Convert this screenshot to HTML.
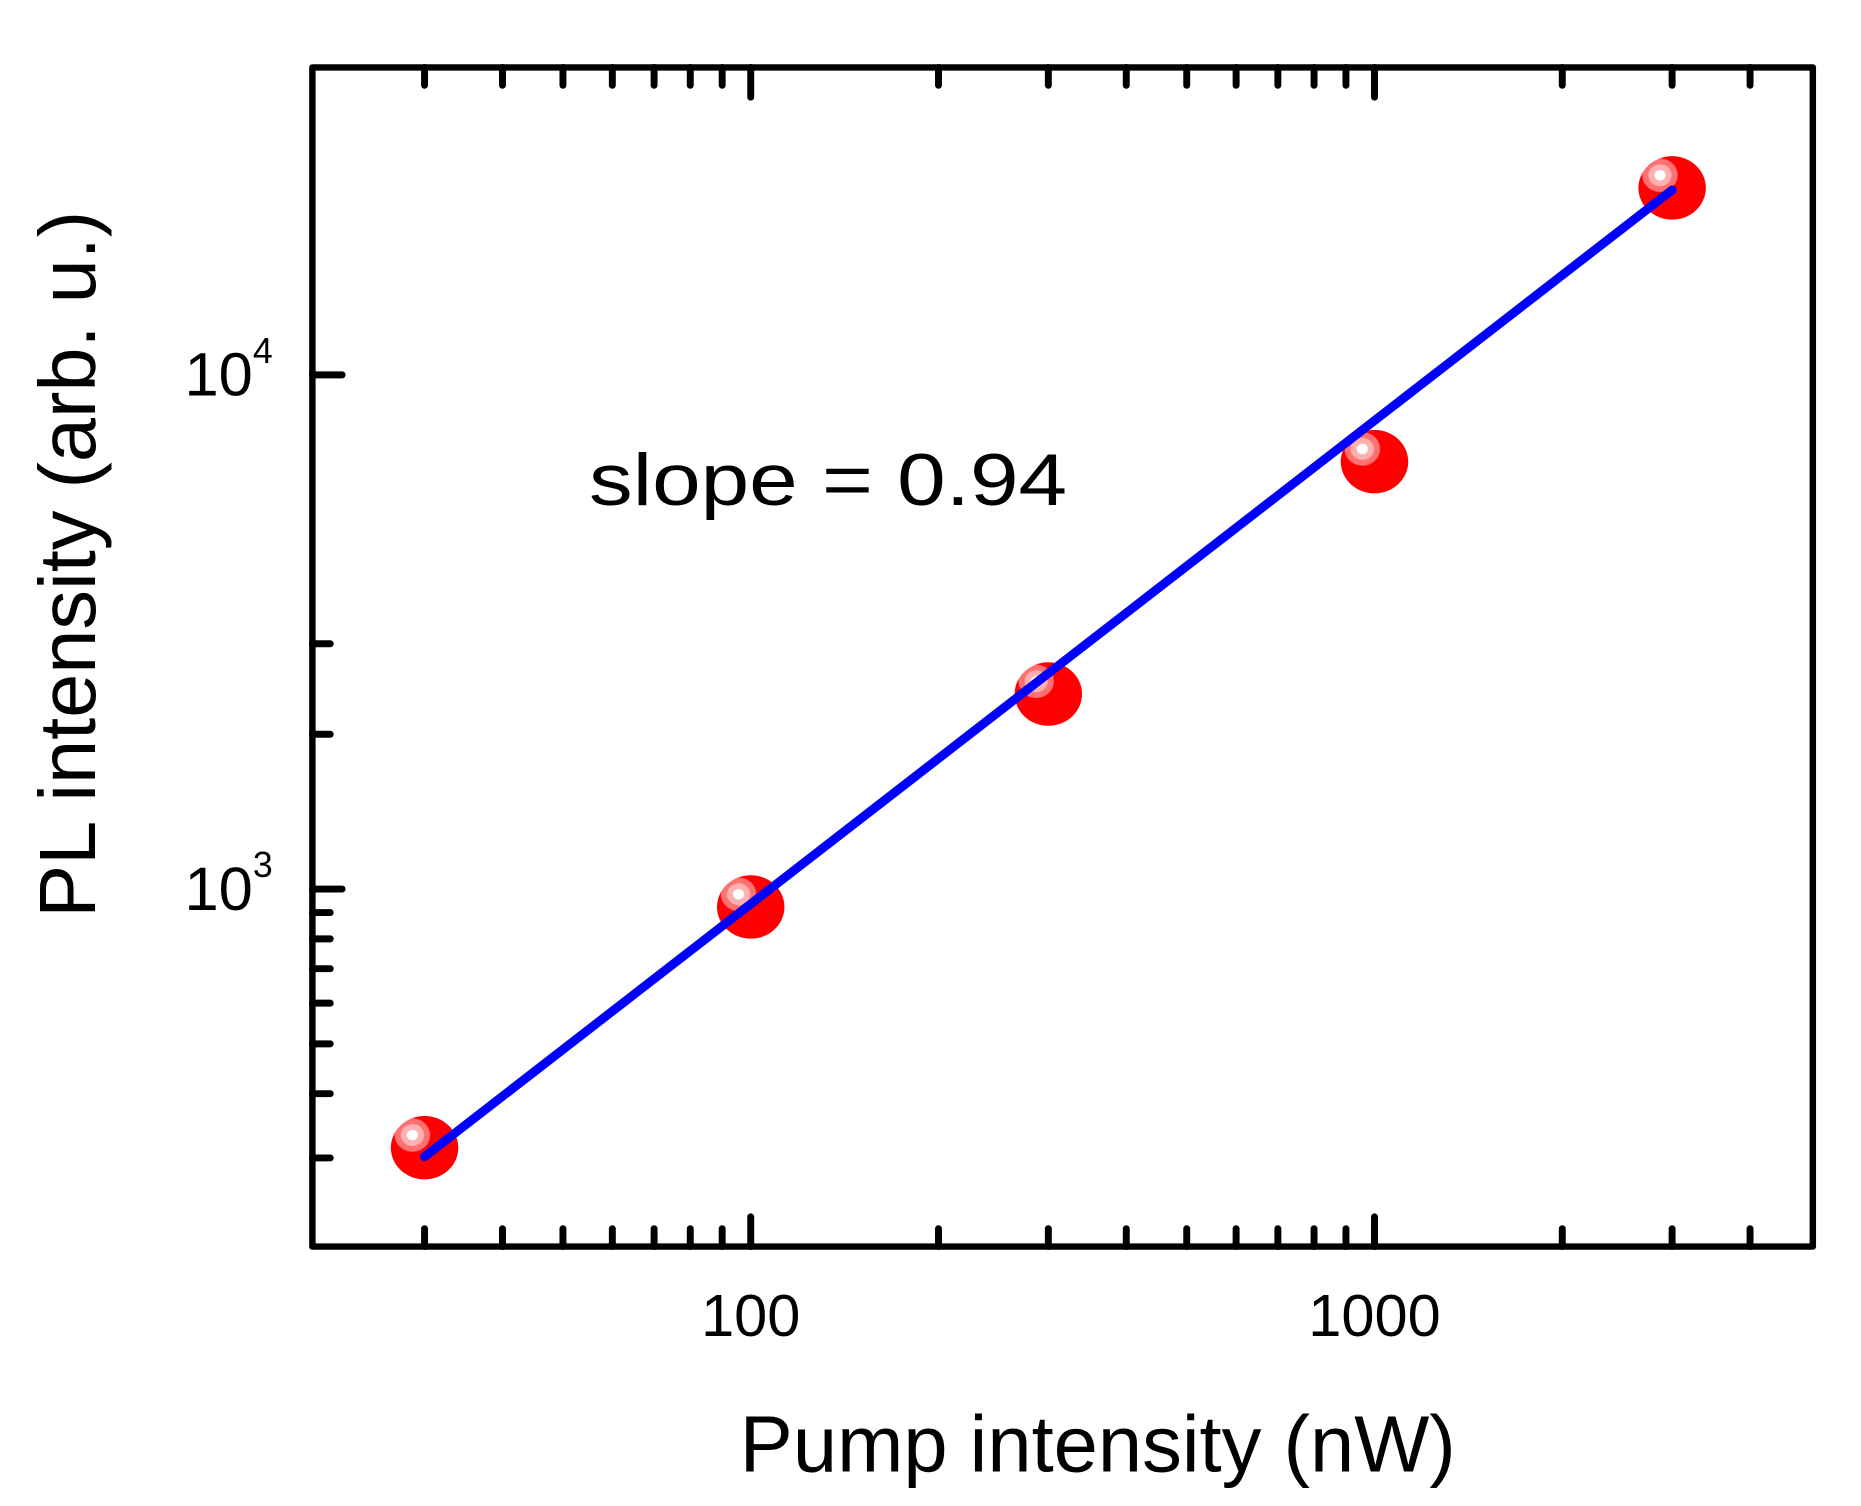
<!DOCTYPE html>
<html><head><meta charset="utf-8"><style>
html,body{margin:0;padding:0;background:#fff;}
svg{display:block;font-family:"Liberation Sans",Arial,sans-serif;}
</style></head><body>
<svg id="chart" width="1861" height="1506" viewBox="0 0 1861 1506" xmlns="http://www.w3.org/2000/svg">
<defs>
<radialGradient id="ball" cx="0.32" cy="0.3" r="0.75">
<stop offset="0" stop-color="#ffffff"/>
<stop offset="0.1" stop-color="#ffffff"/>
<stop offset="0.12" stop-color="#ffb0b0"/>
<stop offset="0.22" stop-color="#ffb0b0"/>
<stop offset="0.24" stop-color="#ff7070"/>
<stop offset="0.34" stop-color="#ff7070"/>
<stop offset="0.36" stop-color="#ff0000"/>
<stop offset="1" stop-color="#ff0000"/>
</radialGradient>
</defs>
<g transform="scale(0.9917)">
<g id="axes"></g>
<g id="marks"></g>
<text x="594" y="509" font-size="74" textLength="482" lengthAdjust="spacingAndGlyphs">slope = 0.94</text>
<text x="1107" y="1484" font-size="80" text-anchor="middle" textLength="722" lengthAdjust="spacingAndGlyphs">Pump intensity (nW)</text>
<text transform="translate(96,569) rotate(-90)" font-size="80" text-anchor="middle">PL intensity (arb.  u.)</text>
</g>
</svg>
<script>
const pumpValues = [30, 100, 300, 1000, 3000];
const plValues = [314, 923, 2395, 6780, 23100];
const fitSlope = 0.94;
const fitLogA = 1.091;
const fitRange = [30, 3000];
const xMajorTicks = [100, 1000];
const xMajorLabels = ["100", "1000"];
const xMinorTicks = [30, 40, 50, 60, 70, 80, 90, 200, 300, 400, 500, 600, 700, 800, 900, 2000, 3000, 4000];
const yMajorTicks = [1000, 10000];
const yMajorExp = ["3", "4"];
const yMinorTicks = [300, 400, 500, 600, 700, 800, 900, 2000, 3000];

const L = 315, R = 1828, T = 68, B = 1257;
const xLog0 = 2, xPx0 = 757, xDec = 629;
const yLog0 = 3, yPx0 = 896.5, yDec = 518.5;
function X(v){ return xPx0 + (Math.log10(v) - xLog0) * xDec; }
function Y(v){ return yPx0 - (Math.log10(v) - yLog0) * yDec; }

const NS = "http://www.w3.org/2000/svg";
function mk(tag, attrs){ const e = document.createElementNS(NS, tag); for (const k in attrs) e.setAttribute(k, attrs[k]); return e; }
const axes = document.getElementById('axes');
const marks = document.getElementById('marks');

const frame = mk('path', {d:`M${L},${T} H${R} V${B} H${L} Z`, fill:'none', stroke:'#000', 'stroke-width':6.5, 'stroke-linejoin':'round'});


axes.appendChild(frame);

function tick(x1,y1,x2,y2,name){
  const t = mk('line', {x1:x1,y1:y1,x2:x2,y2:y2,stroke:'#000','stroke-width':7,'stroke-linecap':'round'});
  
  
  axes.appendChild(t);
}
xMajorTicks.forEach((v,i)=>{
  const x = X(v);
  tick(x,B,x,B-30,'x-major-tick');
  tick(x,T,x,T+30,'x-major-tick-top');
  const lb = mk('text', {x:x, y:1347, 'font-size':60, 'text-anchor':'middle'});
  lb.textContent = xMajorLabels[i];
  
  
  axes.appendChild(lb);
});
xMinorTicks.forEach(v=>{
  const x = X(v);
  tick(x,B,x,B-18,'x-minor-tick');
  tick(x,T,x,T+18,'x-minor-tick-top');
});
yMajorTicks.forEach((v,i)=>{
  const y = Y(v);
  tick(L,y,L+30,y,'y-major-tick');
  const lb = mk('text', {x:186, y:y+21, 'font-size':62});
  lb.textContent = '10';
  const sup = mk('tspan', {'font-size':36, dy:-33});
  sup.textContent = yMajorExp[i];
  lb.appendChild(sup);
  
  
  axes.appendChild(lb);
});
yMinorTicks.forEach(v=>{
  const y = Y(v);
  tick(L,y,L+18,y,'y-minor-tick');
});

pumpValues.forEach((p,i)=>{
  const c = mk('ellipse', {cx:X(p), cy:Y(plValues[i]), rx:34, ry:32, fill:'url(#ball)'});
  
  
  marks.appendChild(c);
});
const fy = x => Math.pow(10, fitLogA + fitSlope*Math.log10(x));
const fit = mk('line', {x1:X(fitRange[0]), y1:Y(fy(fitRange[0])), x2:X(fitRange[1]), y2:Y(fy(fitRange[1])), stroke:'#0000ff', 'stroke-width':9, 'stroke-linecap':'round'});


marks.appendChild(fit);
</script>
</body></html>
